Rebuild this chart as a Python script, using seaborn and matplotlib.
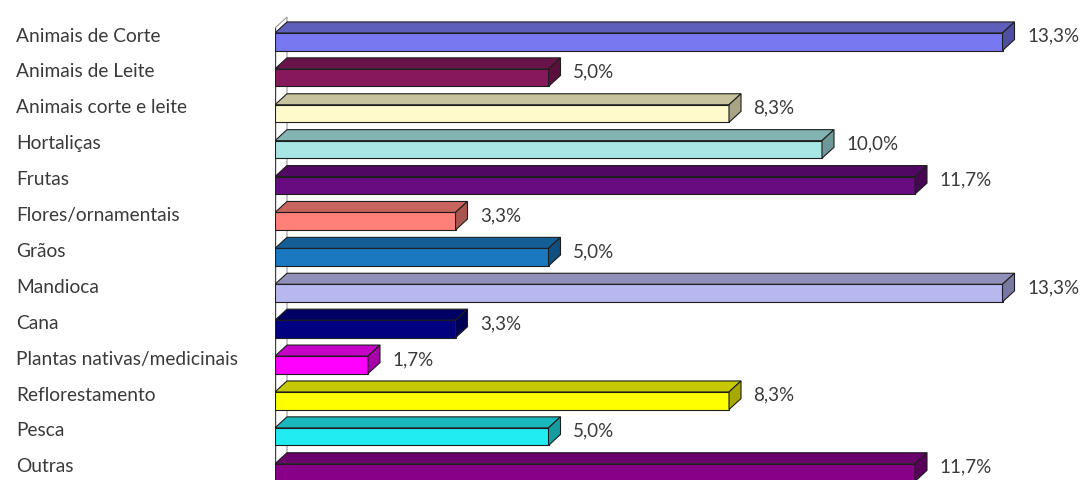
import matplotlib
matplotlib.use("Agg")
import matplotlib.pyplot as plt
from matplotlib.patches import Polygon, Rectangle
from matplotlib.colors import to_rgb
import seaborn as sns
import pandas as pd

categorias = [
    "Animais de Corte", "Animais de Leite", "Animais corte e leite", "Hortaliças",
    "Frutas", "Flores/ornamentais", "Grãos", "Mandioca", "Cana",
    "Plantas nativas/medicinais", "Reflorestamento", "Pesca", "Outras",
]
valores = [13.3, 5.0, 8.3, 10.0, 11.7, 3.3, 5.0, 13.3, 3.3, 1.7, 8.3, 5.0, 11.7]
rotulos = ["13,3%", "5,0%", "8,3%", "10,0%", "11,7%", "3,3%", "5,0%",
           "13,3%", "3,3%", "1,7%", "8,3%", "5,0%", "11,7%"]
cores = ["#7878f0", "#88185c", "#fffacc", "#a8e6e6", "#680a80", "#ff8078",
         "#1a78c0", "#b8b8f0", "#000080", "#ff00ff", "#ffff00", "#20ecf2", "#880088"]

sns.set_theme(style="white")
plt.rcParams["font.family"] = ["Lato", "DejaVu Sans"]

df = pd.DataFrame({"categoria": categorias, "valor": valores})

W, H = 1090, 480
fig = plt.figure(figsize=(W / 100, H / 100), dpi=100)
fig.patch.set_facecolor("white")
ax_left = 275
ax = fig.add_axes([ax_left / W, 0, (W - ax_left) / W, 1])

sns.barplot(data=df, x="valor", y="categoria", hue="categoria", palette=cores,
            legend=False, orient="h", width=0.49, saturation=1,
            edgecolor="#1e1e1e", linewidth=0.8, ax=ax, zorder=3)
barras = [p for p in ax.patches if isinstance(p, Rectangle)]

px_per_unit = 54.7
px_per_row = 35.9
first_center = 41.75
ax.set_xlim(0, (W - ax_left) / px_per_unit)
ax.set_ylim((H - first_center) / px_per_row, -first_center / px_per_row)

# oblique depth of the 3D bars, in data units
dx = 12 / px_per_unit
dy = -11 / px_per_row


def shade(c, f):
    r, g, b = to_rgb(c)
    return (r * f, g * f, b * f)


# left wall of the 3D frame
y_wall_top = -0.383
y_wall_bot = 13.0
wall = Polygon([(0, y_wall_bot), (0, y_wall_top), (dx, y_wall_top + dy), (dx, y_wall_bot + dy)],
               closed=True, facecolor="white", edgecolor="#9a9a9a", linewidth=0.8, zorder=1)
ax.add_patch(wall)
ax.plot([0, 0], [y_wall_top, y_wall_bot], color="#404040", lw=1.0, zorder=2)

for patch, cor in zip(barras, cores):
    x0, y0 = patch.get_x(), patch.get_y()
    w, h = patch.get_width(), patch.get_height()
    ytop = min(y0, y0 + h)
    ybot = max(y0, y0 + h)
    topo = Polygon([(x0, ytop), (x0 + w, ytop), (x0 + w + dx, ytop + dy), (x0 + dx, ytop + dy)],
                   closed=True, facecolor=shade(cor, 0.78), edgecolor="#1e1e1e", linewidth=0.8, zorder=3)
    lado = Polygon([(x0 + w, ytop), (x0 + w + dx, ytop + dy), (x0 + w + dx, ybot + dy), (x0 + w, ybot)],
                   closed=True, facecolor=shade(cor, 0.66), edgecolor="#1e1e1e", linewidth=0.8, zorder=3)
    ax.add_patch(topo)
    ax.add_patch(lado)

# value labels at the end of each bar
for i, (v, txt) in enumerate(zip(valores, rotulos)):
    ax.text(v + 0.45, i - 0.15, txt, ha="left", va="center", fontsize=13.5, color="#3a3a3a", zorder=5)

# category labels on the left
for i, nome in enumerate(categorias):
    ax.text(-(ax_left - 16) / px_per_unit, i - 0.16, nome, ha="left", va="center",
            fontsize=13.8, color="#3a3a3a", clip_on=False)

ax.set_xlabel("")
ax.set_ylabel("")
ax.set_xticks([])
ax.set_yticks([])
for s in ax.spines.values():
    s.set_visible(False)

fig.savefig("out.png", dpi=100, facecolor="white")
